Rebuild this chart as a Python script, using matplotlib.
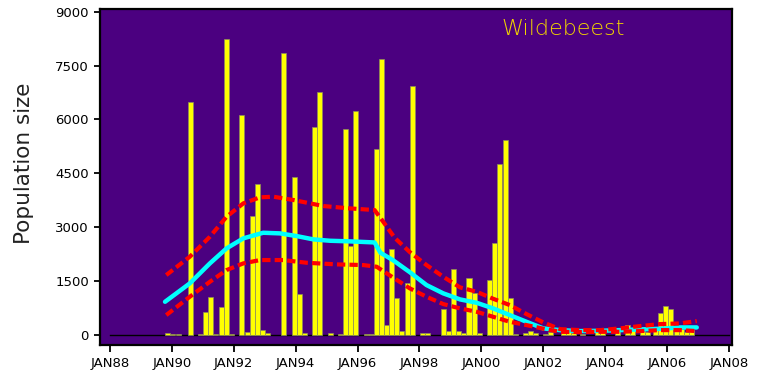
import numpy as np
import matplotlib
matplotlib.use("Agg")
import matplotlib.pyplot as plt

# survey dates (decimal years, left edge of each bar) and counts
bar_dates = [
    1989.78, 1989.94, 1990.13, 1990.52, 1990.84, 1991.00, 1991.17, 1991.33,
    1991.52, 1991.68, 1991.85, 1992.17, 1992.36, 1992.52, 1992.68, 1992.85,
    1993.01, 1993.52, 1993.87, 1994.03, 1994.19, 1994.52, 1994.68, 1995.03,
    1995.37, 1995.53, 1995.69, 1995.85, 1996.21, 1996.37, 1996.53, 1996.69,
    1996.85, 1997.01, 1997.18, 1997.34, 1997.52, 1997.69, 1998.02, 1998.18,
    1998.69, 1998.86, 1999.02, 1999.18, 1999.34, 1999.52, 1999.70, 1999.86,
    2000.18, 2000.34, 2000.50, 2000.69, 2000.86, 2001.02, 2001.34, 2001.51,
    2001.67, 2001.99, 2002.15, 2002.57, 2002.73, 2002.89, 2003.19, 2003.67,
    2003.83, 2004.32, 2004.64, 2004.80, 2005.12, 2005.29, 2005.54, 2005.71,
    2005.87, 2006.03, 2006.22, 2006.38, 2006.55, 2006.71,
]
bar_counts = [
    40, 30, 30, 6500, 30, 620, 1040, 20,
    760, 8245, 20, 6124, 60, 3315, 4200, 125,
    50, 7862, 4403, 1130, 35, 5798, 6775, 35,
    30, 5733, 2470, 6236, 20, 30, 5175, 7686,
    265, 2380, 1027, 100, 1437, 6942, 40, 40,
    711, 90, 1827, 100, 40, 1580, 1150, 40,
    1520, 2545, 4748, 5440, 1027, 30, 40, 100,
    40, 30, 60, 180, 120, 40, 30, 80,
    80, 110, 260, 120, 110, 80, 120, 610,
    805, 710, 120, 150, 80, 120,
]

# fitted mean
mean_years = [
    1989.78, 1990.58, 1991.23, 1991.77, 1992.31, 1992.95, 1993.49, 1994.03,
    1994.57, 1995.11, 1995.75, 1996.55, 1996.74, 1997.14, 1997.69, 1998.23,
    1998.77, 1999.31, 1999.85, 2000.38, 2000.92, 2001.46, 2002.00, 2002.54,
    2003.19, 2003.83, 2004.48, 2005.12, 2005.77, 2006.42, 2006.96,
]
mean_vals = [
    915, 1428, 1986, 2405, 2684, 2840, 2823, 2748,
    2656, 2617, 2600, 2570, 2282, 2079, 1740, 1381,
    1150, 982, 887, 731, 544, 357, 173, 125,
    98, 106, 125, 145, 162, 200, 200,
]

# upper / lower bounds
upper_years = [
    1989.82, 1990.58, 1991.23, 1991.77, 1992.31, 1992.85, 1993.28, 1993.93,
    1994.90, 1995.75, 1996.55, 1996.83, 1997.20, 1997.69, 1998.23, 1998.77,
    1999.31, 1999.85, 2000.38, 2000.92, 2001.46, 2002.00, 2002.54, 2003.19,
    2003.83, 2004.48, 2005.12, 2005.77, 2006.42, 2006.96,
]
upper_vals = [
    1660, 2171, 2729, 3287, 3660, 3828, 3845, 3753,
    3585, 3520, 3473, 3147, 2700, 2300, 1939, 1613,
    1317, 1194, 1000, 823, 572, 340, 153, 125,
    125, 173, 237, 293, 312, 377,
]
lower_years = [
    1989.82, 1990.58, 1991.23, 1991.77, 1992.31, 1992.85, 1993.60, 1994.36,
    1995.33, 1996.19, 1996.62, 1996.78, 1997.19, 1997.69, 1998.23, 1998.77,
    1999.31, 1999.85, 2000.38, 2000.92, 2001.46, 2002.00, 2002.54, 2003.19,
    2003.83, 2004.48, 2005.12, 2005.77, 2006.42, 2006.96,
]
lower_vals = [
    544, 1055, 1473, 1800, 1986, 2079, 2079, 2003,
    1958, 1939, 1892, 1800, 1568, 1289, 1055, 851,
    731, 636, 497, 357, 265, 165, 78, 70,
    78, 78, 98, 125, 125, 98,
]

tick_years = list(range(1988, 2009, 2))
tick_labels = ["JAN%02d" % (y % 100) for y in tick_years]

fig = plt.figure(figsize=(7.6, 3.75), dpi=100)
ax = fig.add_axes([0.1316, 0.08, 0.8312, 0.896])
ax.set_facecolor("#4B0080")

ax.plot([1988, 2008], [0, 0], color="black", lw=1, zorder=1)
ax.bar(bar_dates, bar_counts, width=0.165, align="edge", color="#FFFF00",
       edgecolor="#8c8c60", linewidth=0.5, zorder=2)
ax.plot(mean_years, mean_vals, color="#00FFFF", lw=3.2, zorder=3,
        solid_capstyle="round")
ax.plot(upper_years, upper_vals, color="#FF0000", lw=3, dashes=(2, 1), zorder=4)
ax.plot(lower_years, lower_vals, color="#FF0000", lw=3, dashes=(2, 1), zorder=4)

ax.set_xlim(1987.68, 2008.09)
ax.set_ylim(-290, 9080)
ax.set_xticks(tick_years)
ax.set_xticklabels(tick_labels)
ax.set_yticks(np.arange(0, 9001, 1500))
ax.tick_params(axis="both", direction="out", width=1.3, labelsize=9.5,
               colors="black")
ax.tick_params(axis="y", length=4, pad=4)
ax.tick_params(axis="x", length=5, pad=4)
for s in ax.spines.values():
    s.set_linewidth(1.6)
    s.set_color("black")

ax.set_ylabel("Population size", fontsize=15.5, color="#222222")
ax.yaxis.set_label_coords(-0.104, 0.54)

ax.text(0.733, 0.94, "Wildebeest", transform=ax.transAxes, fontsize=16,
        color="#F2D400", ha="center", va="center", fontweight="light")

fig.savefig("out.png", dpi=100)
